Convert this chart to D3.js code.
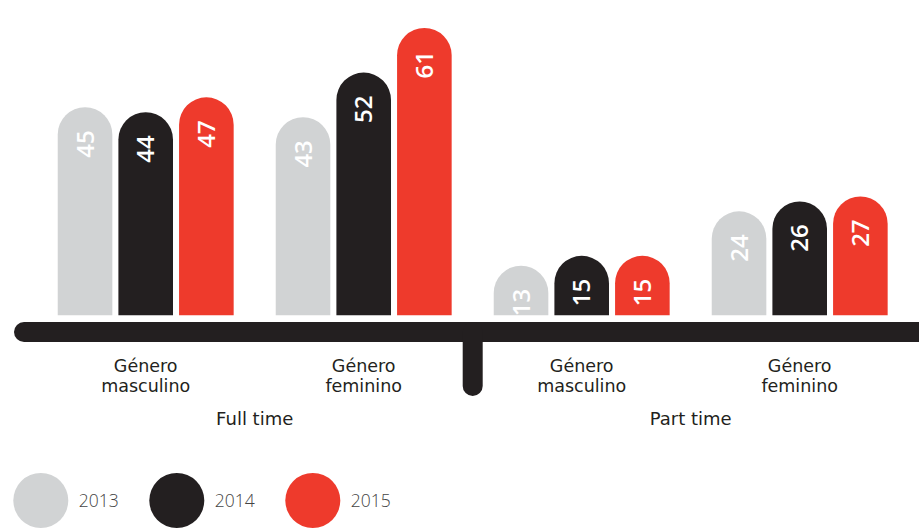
<!DOCTYPE html>
<html>
<head>
<meta charset="utf-8">
<script src="https://cdn.jsdelivr.net/npm/d3@7"></script>
<style>
  html, body { margin: 0; padding: 0; background: #fff; }
  svg { display: block; }
</style>
</head>
<body>
<svg id="chart" width="919" height="528"></svg>
<script>
// ---- data ----
const groupLines = [["Género", "masculino"], ["Género", "feminino"], ["Género", "masculino"], ["Género", "feminino"]];
const employment = ["Full time", "Part time"];
const years = ["2013", "2014", "2015"];
const v2013 = [45, 43, 13, 24];
const v2014 = [44, 52, 15, 26];
const v2015 = [47, 61, 15, 27];
const yearColors = ["#d1d3d4", "#231f20", "#ee3a2c"];

const series = [v2013, v2014, v2015];

// ---- layout ----
const svg = d3.select("#chart");
const baseline = 315.3;
const labelFont = "'DejaVu Sans', sans-serif";
const numFont = "'Open Sans', sans-serif";
const dark = "#231f20";

const x0 = d3.scaleBand().domain(d3.range(groupLines.length)).range([36.7, 908.7]);
const x1 = d3.scaleBand().domain(years).range([-91, 91]).paddingInner(0.1).paddingOuter(0.05);
const y = d3.scaleLinear().domain([3, 61]).range([baseline, 28]);

const bw = x1.bandwidth();
const r = bw / 2;

function barPath(x, top) {
  return `M${x},${baseline} V${top + r} A${r},${r} 0 0 1 ${x + bw},${top + r} V${baseline} Z`;
}

// bars
groupLines.forEach((g, gi) => {
  const cx = x0(gi) + x0.bandwidth() / 2;
  years.forEach((yr, yi) => {
    const val = series[yi][gi];
    const bx = cx + x1(yr);
    const top = y(val);
    svg.append("path")
      .attr("d", barPath(bx, top))
      .attr("fill", yearColors[yi]);
    svg.append("text")
      .attr("transform", `translate(${bx + bw / 2},${top + 23}) rotate(-90)`)
      .attr("text-anchor", "end")
      .attr("dy", "0.36em")
      .attr("font-family", numFont)
      .attr("font-size", 24)
      .attr("font-weight", 600)
      .attr("fill", "#ffffff")
      .text(val);
  });
});

// axis bar
const axisY = 332;
svg.append("line")
  .attr("x1", 24).attr("x2", 940)
  .attr("y1", axisY).attr("y2", axisY)
  .attr("stroke", dark).attr("stroke-width", 20).attr("stroke-linecap", "round");

// separator between employment types
const sepX = x0(2);
svg.append("line")
  .attr("x1", sepX).attr("x2", sepX)
  .attr("y1", axisY).attr("y2", 386)
  .attr("stroke", dark).attr("stroke-width", 20).attr("stroke-linecap", "round");

// group labels
groupLines.forEach((lines, gi) => {
  const cx = x0(gi) + x0.bandwidth() / 2;
  lines.forEach((ln, li) => {
    svg.append("text")
      .attr("x", cx).attr("y", 372 + li * 20)
      .attr("text-anchor", "middle")
      .attr("font-family", labelFont)
      .attr("font-size", 17.5)
      .attr("fill", dark)
      .text(ln);
  });
});

// employment labels
employment.forEach((e, ei) => {
  const cx = (x0(ei * 2) + x0(ei * 2 + 1)) / 2 + x0.bandwidth() / 2;
  svg.append("text")
    .attr("x", cx).attr("y", 425)
    .attr("text-anchor", "middle")
    .attr("font-family", labelFont)
    .attr("font-size", 18)
    .attr("fill", dark)
    .text(e);
});

// legend
const legX = d3.scaleLinear().domain([0, 1]).range([40.8, 176.8]);
years.forEach((yr, yi) => {
  const cx = legX(yi);
  svg.append("circle")
    .attr("cx", cx).attr("cy", 500.5).attr("r", 27.5)
    .attr("fill", yearColors[yi]);
  svg.append("text")
    .attr("x", cx + 38).attr("y", 506.7)
    .attr("font-family", numFont)
    .attr("font-weight", 300)
    .attr("font-size", 17.5)
    .attr("fill", "#444")
    .text(yr);
});
</script>
</body>
</html>
